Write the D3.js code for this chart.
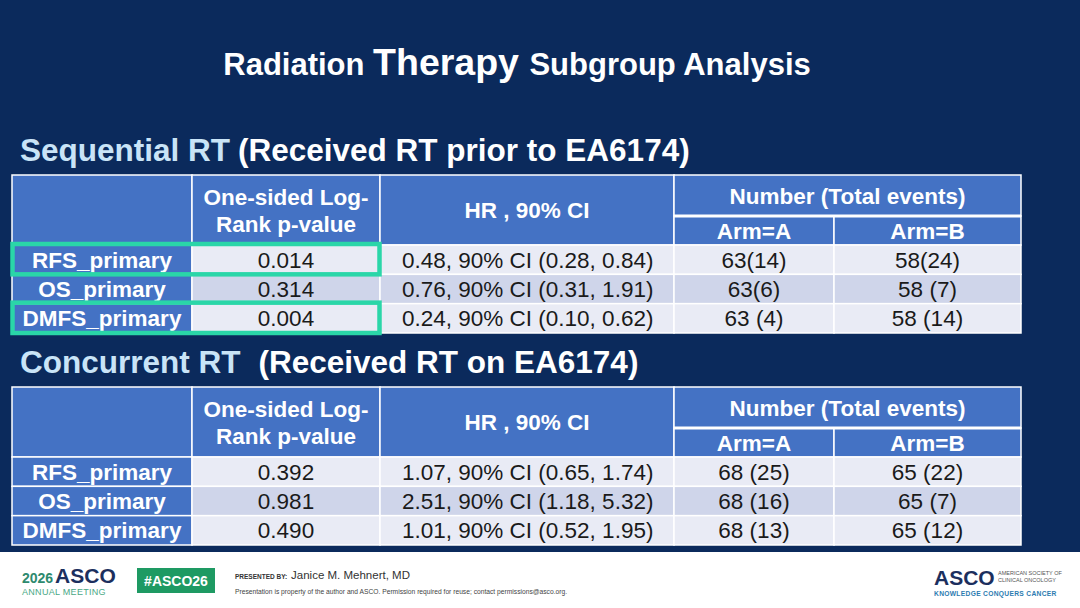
<!DOCTYPE html>
<html>
<head>
<meta charset="utf-8">
<script src="https://cdn.jsdelivr.net/npm/d3@7/dist/d3.min.js"></script>
<style>
  body { margin: 0; background: #fff; }
  svg { display: block; }
</style>
</head>
<body>
<div id="wrapper"></div>
<script>
// ---- data ----
const outcomes = ["RFS_primary", "OS_primary", "DMFS_primary"]

const seqPValues = ["0.014", "0.314", "0.004"]
const seqHR = ["0.48, 90% CI (0.28, 0.84)", "0.76, 90% CI (0.31, 1.91)", "0.24, 90% CI (0.10, 0.62)"]
const seqArmA = ["63(14)", "63(6)", "63 (4)"]
const seqArmB = ["58(24)", "58 (7)", "58 (14)"]
const seqHighlighted = ["RFS_primary", "DMFS_primary"]

const conPValues = ["0.392", "0.981", "0.490"]
const conHR = ["1.07, 90% CI (0.65, 1.74)", "2.51, 90% CI (1.18, 5.32)", "1.01, 90% CI (0.52, 1.95)"]
const conArmA = ["68 (25)", "68 (16)", "68 (13)"]
const conArmB = ["65 (22)", "65 (7)", "65 (12)"]

const columnKeys = ["label", "p", "hr", "armA", "armB"]
const pHeader = ["One-sided Log-", "Rank p-value"]
const hrHeader = "HR , 90% CI"
const numberHeader = "Number (Total events)"
const armHeaders = ["Arm=A", "Arm=B"]

function drawSlide() {
  const width = 1080
  const height = 608
  const footerTop = 552
  const font = "'Liberation Sans', Arial, sans-serif"

  const colors = {
    bg: "#0b2a5c",
    header: "#4472c4",
    rowLight: "#e9ebf5",
    rowDark: "#cfd5ea",
    cellText: "#1a1a1a",
    subtitle: "#c9e4f7",
    highlight: "#2ad6a8"
  }

  const svg = d3.select("#wrapper")
    .append("svg")
    .attr("width", width)
    .attr("height", height)
    .style("font-family", font)

  svg.append("rect")
    .attr("width", width)
    .attr("height", footerTop)
    .attr("fill", colors.bg)

  // title
  const title = svg.append("text")
    .attr("x", 517)
    .attr("y", 75)
    .attr("text-anchor", "middle")
    .attr("fill", "#fff")
    .style("font-weight", "bold")
  title.append("tspan").style("font-size", "31px").text("Radiation ")
  title.append("tspan").style("font-size", "37.5px").text("Therapy ")
  title.append("tspan").style("font-size", "31px").text("Subgroup Analysis")

  // column layout
  const colWidths = [180, 188, 294, 160, 187]
  const tableLeft = 12
  const colStarts = d3.cumsum([0, ...colWidths]).map(d => tableLeft + d)
  const xScale = d3.scaleOrdinal().domain(columnKeys).range(colStarts)
  const wScale = d3.scaleOrdinal().domain(columnKeys).range(colWidths)
  const tableRight = colStarts[colStarts.length - 1]

  const drawTable = (cfg) => {
    const g = svg.append("g")

    // section heading
    const heading = g.append("text")
      .attr("x", 20)
      .attr("y", cfg.headingY)
      .style("font-size", "31.5px")
      .style("font-weight", "bold")
    heading.append("tspan").attr("fill", colors.subtitle).text(cfg.name)
    heading.append("tspan").attr("fill", "#fff").attr("dx", cfg.gap).text(cfg.note)

    const top = cfg.top
    const subTop = top + 41
    const dataTop = top + 70
    const bottom = top + 158

    const yScale = d3.scaleBand()
      .domain(outcomes)
      .range([dataTop, bottom])

    // header cells
    const headerCells = [
      { key: "label", y0: top, y1: dataTop, w: wScale("label") },
      { key: "p", y0: top, y1: dataTop, w: wScale("p"), lines: pHeader },
      { key: "hr", y0: top, y1: dataTop, w: wScale("hr"), lines: [hrHeader] },
      { key: "armA", y0: top, y1: subTop, w: wScale("armA") + wScale("armB"), lines: [numberHeader] },
      { key: "armA", y0: subTop, y1: dataTop, w: wScale("armA"), lines: [armHeaders[0]] },
      { key: "armB", y0: subTop, y1: dataTop, w: wScale("armB"), lines: [armHeaders[1]] }
    ]

    const hg = g.selectAll(".hcell")
      .data(headerCells)
      .join("g")
      .attr("class", "hcell")

    hg.append("rect")
      .attr("x", d => xScale(d.key))
      .attr("y", d => d.y0)
      .attr("width", d => d.w)
      .attr("height", d => d.y1 - d.y0)
      .attr("fill", colors.header)
      .attr("stroke", "#fff")
      .attr("stroke-width", 1.5)

    hg.filter(d => d.lines)
      .append("text")
      .attr("text-anchor", "middle")
      .attr("fill", "#fff")
      .style("font-size", "22.5px")
      .style("font-weight", "bold")
      .selectAll("tspan")
      .data(d => d.lines.map((line, i) => ({ line, i, n: d.lines.length, cell: d })))
      .join("tspan")
      .attr("x", d => xScale(d.cell.key) + d.cell.w / 2)
      .attr("y", d => (d.cell.y0 + d.cell.y1) / 2 + 8 + (d.i - (d.n - 1) / 2) * 27)
      .text(d => d.line)

    // thicker separator under "Number (Total events)"
    g.append("line")
      .attr("x1", xScale("armA"))
      .attr("x2", tableRight)
      .attr("y1", subTop)
      .attr("y2", subTop)
      .attr("stroke", "#fff")
      .attr("stroke-width", 3)

    // body rows
    const rows = outcomes.map((o, i) => ({
      outcome: o,
      i,
      values: { label: o, p: cfg.p[i], hr: cfg.hr[i], armA: cfg.armA[i], armB: cfg.armB[i] }
    }))

    const cells = rows.flatMap(r => columnKeys.map(k => ({ row: r, key: k, text: r.values[k] })))

    const cg = g.selectAll(".cell")
      .data(cells)
      .join("g")
      .attr("class", "cell")

    cg.append("rect")
      .attr("x", d => xScale(d.key))
      .attr("y", d => yScale(d.row.outcome))
      .attr("width", d => wScale(d.key))
      .attr("height", yScale.bandwidth())
      .attr("fill", d => d.key === "label" ? colors.header : (d.row.i % 2 ? colors.rowDark : colors.rowLight))
      .attr("stroke", "#fff")
      .attr("stroke-width", 1.5)

    cg.append("text")
      .attr("x", d => d.key === "hr" ? xScale(d.key) + 22 : xScale(d.key) + wScale(d.key) / 2)
      .attr("y", d => yScale(d.row.outcome) + yScale.bandwidth() / 2 + 8)
      .attr("text-anchor", d => d.key === "hr" ? "start" : "middle")
      .attr("fill", d => d.key === "label" ? "#fff" : colors.cellText)
      .style("font-size", "22.5px")
      .style("font-weight", d => d.key === "label" ? "bold" : "normal")
      .text(d => d.text)

    // highlight boxes
    g.selectAll(".hl")
      .data(cfg.highlight || [])
      .join("rect")
      .attr("class", "hl")
      .attr("x", tableLeft + 0.5)
      .attr("y", d => yScale(d) - 1)
      .attr("width", xScale("hr") - tableLeft - 1)
      .attr("height", yScale.bandwidth() + 1)
      .attr("fill", "none")
      .attr("stroke", colors.highlight)
      .attr("stroke-width", 4.5)
  }

  drawTable({
    name: "Sequential RT",
    note: "(Received RT prior to EA6174)",
    gap: 8,
    headingY: 161,
    top: 175,
    p: seqPValues, hr: seqHR, armA: seqArmA, armB: seqArmB,
    highlight: seqHighlighted
  })

  drawTable({
    name: "Concurrent RT",
    note: "(Received RT on EA6174)",
    gap: 18,
    headingY: 373,
    top: 387,
    p: conPValues, hr: conHR, armA: conArmA, armB: conArmB
  })

  // ---- footer ----
  const footer = svg.append("g")

  const logo = footer.append("text").attr("x", 22).attr("y", 583)
  logo.append("tspan").attr("fill", "#2e8a6e").style("font-size", "14px").style("font-weight", "bold").text("2026 ")
  logo.append("tspan").attr("fill", "#1c2f5e").style("font-size", "21px").style("font-weight", "bold").attr("dx", -2).text("ASCO")
  footer.append("text")
    .attr("x", 22).attr("y", 595)
    .attr("fill", "#4aa886")
    .style("font-size", "9px")
    .style("letter-spacing", "0.3px")
    .text("ANNUAL MEETING")

  footer.append("rect")
    .attr("x", 137).attr("y", 568)
    .attr("width", 78).attr("height", 25)
    .attr("fill", "#1e9a63")
  footer.append("text")
    .attr("x", 176).attr("y", 586)
    .attr("text-anchor", "middle")
    .attr("fill", "#fff")
    .style("font-size", "14px")
    .style("font-weight", "bold")
    .text("#ASCO26")

  const presenter = footer.append("text").attr("x", 235).attr("y", 579).attr("fill", "#333")
  presenter.append("tspan").style("font-size", "6.5px").style("font-weight", "bold").text("PRESENTED BY: ")
  presenter.append("tspan").style("font-size", "11.5px").attr("dx", 2).text("Janice M. Mehnert, MD")
  footer.append("text")
    .attr("x", 235).attr("y", 594)
    .attr("fill", "#444")
    .style("font-size", "6.7px")
    .text("Presentation is property of the author and ASCO. Permission required for reuse; contact permissions@asco.org.")

  footer.append("text")
    .attr("x", 934).attr("y", 585)
    .attr("fill", "#1c2f5e")
    .style("font-size", "21px")
    .style("font-weight", "bold")
    .text("ASCO")
  footer.append("text")
    .attr("x", 998).attr("y", 575)
    .attr("fill", "#555")
    .style("font-size", "5.5px")
    .selectAll("tspan")
    .data(["AMERICAN SOCIETY OF", "CLINICAL ONCOLOGY"])
    .join("tspan")
    .attr("x", 998)
    .attr("dy", (d, i) => i ? 7 : 0)
    .text(d => d)
  footer.append("text")
    .attr("x", 934).attr("y", 596)
    .attr("fill", "#2b7bb0")
    .style("font-size", "6.7px")
    .style("font-weight", "bold")
    .style("letter-spacing", "0.3px")
    .text("KNOWLEDGE CONQUERS CANCER")
}

drawSlide()
</script>
</body>
</html>
